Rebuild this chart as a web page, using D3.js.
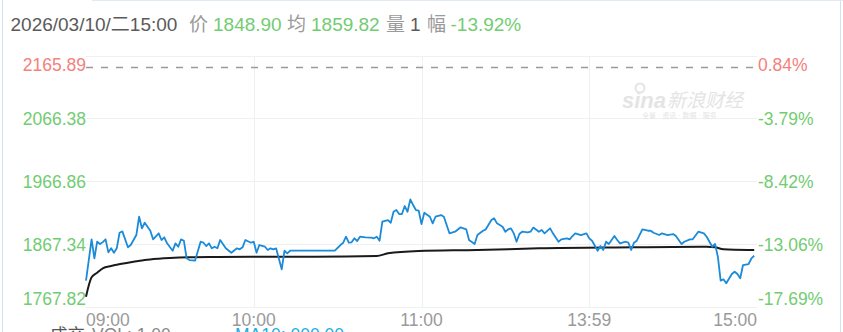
<!DOCTYPE html>
<html>
<head>
<meta charset="utf-8">
<script src="https://cdn.jsdelivr.net/npm/d3@7"></script>
<style>
  html, body { margin: 0; padding: 0; background: #fff; }
  svg { display: block; font-family: "Liberation Sans", Arial, "Noto Sans CJK SC", sans-serif; }
</style>
</head>
<body>
<svg id="chart" width="843" height="332"></svg>
<script>
// minute index (0 = 09:00, 240 = 15:00) and last price
var priceMinutes = [
  0, 2, 3, 4, 5, 6, 7, 8, 9, 10,
  11, 12, 13, 15, 16, 18, 19, 20, 21, 23,
  24, 26, 27, 28, 29, 31, 32, 33, 34, 35,
  36, 37, 39, 41, 42, 43, 44, 45, 46, 47,
  48, 50, 52, 54, 55, 56, 57, 59, 60, 61,
  62, 64, 65, 66, 67, 68, 70, 71, 72, 73,
  89, 91, 92, 93, 94, 95, 96, 97, 98, 100,
  102, 103, 104, 105, 106, 108, 109, 110, 111, 112,
  113, 114, 115, 116, 117, 118, 119, 120, 121, 123,
  124, 125, 127, 128, 130, 132, 134, 136, 137, 139,
  140, 142, 143, 145, 146, 147, 149, 150, 151, 152,
  153, 154, 155, 156, 158, 159, 160, 162, 163, 164,
  166, 167, 169, 170, 172, 173, 174, 175, 177, 179,
  180, 181, 183, 184, 185, 186, 187, 189, 190, 191,
  193, 194, 195, 196, 197, 199, 201, 202, 203, 205,
  206, 208, 210, 211, 213, 214, 216, 217, 219, 221,
  222, 223, 224, 225, 226, 227, 228, 229, 231, 232,
  233, 234, 235, 237, 238, 239
];
var priceValues = [
  1809.43, 1874.94, 1844.87, 1871.14, 1867.50, 1870.50, 1874.94, 1854.37, 1860.70, 1853.73,
  1860.70, 1885.38, 1887.59, 1862.28, 1865.92, 1881.74, 1910.69, 1892.34, 1901.20, 1888.54,
  1874.94, 1884.43, 1873.83, 1878.10, 1868.61, 1856.90, 1868.61, 1863.23, 1874.94, 1872.72,
  1844.87, 1842.18, 1841.08, 1871.14, 1869.56, 1864.33, 1868.61, 1860.70, 1863.23, 1860.70,
  1873.83, 1860.70, 1853.73, 1860.70, 1859.11, 1862.28, 1873.83, 1869.56, 1871.14, 1853.73,
  1865.92, 1863.23, 1858.01, 1860.70, 1859.11, 1860.70, 1827.47, 1856.90, 1852.78, 1856.90,
  1856.90, 1865.92, 1869.56, 1879.05, 1869.56, 1870.19, 1876.52, 1872.25, 1879.05, 1878.10,
  1877.47, 1876.52, 1879.05, 1872.72, 1902.78, 1905.47, 1901.20, 1918.60, 1921.29, 1914.96,
  1914.96, 1927.62, 1918.60, 1938.22, 1929.20, 1921.29, 1920.19, 1899.14, 1917.02, 1910.69,
  1900.25, 1910.69, 1913.38, 1910.69, 1884.43, 1886.96, 1893.92, 1890.76, 1873.83, 1867.50,
  1881.74, 1888.54, 1890.76, 1905.47, 1908.16, 1900.25, 1894.87, 1886.96, 1890.76, 1892.34,
  1884.43, 1871.14, 1883.32, 1886.96, 1886.01, 1886.96, 1893.50, 1886.96, 1889.65, 1884.43,
  1892.34, 1884.43, 1871.14, 1874.94, 1876.52, 1874.94, 1880.16, 1884.43, 1881.74, 1884.43,
  1876.52, 1872.72, 1856.90, 1864.33, 1858.01, 1871.14, 1867.50, 1880.16, 1873.83, 1868.61,
  1871.14, 1869.56, 1858.01, 1869.56, 1872.72, 1890.76, 1888.54, 1888.54, 1885.38, 1881.74,
  1884.43, 1881.74, 1883.32, 1880.16, 1867.50, 1871.14, 1874.94, 1874.94, 1886.96, 1884.43,
  1879.05, 1871.14, 1863.23, 1867.50, 1847.40, 1809.43, 1811.65, 1805.32, 1820.03, 1823.67,
  1820.03, 1813.23, 1834.27, 1835.85, 1844.87, 1848.90
];

// average price line
var avgMinutes = [0, 2, 4, 6, 9, 11, 15, 18, 21, 26, 30, 37, 47, 59, 82, 104, 108, 119, 140, 162, 196, 222, 225, 228, 232, 239];
var avgValues = [1784.12, 1814.81, 1822.09, 1829.05, 1832.69, 1834.75, 1837.91, 1840.13, 1842.18, 1844.24, 1845.35,
  1846.45, 1846.93, 1847.40, 1847.40, 1848.51, 1852.78, 1856.42, 1858.01, 1860.70, 1862.28, 1863.23,
  1862.28, 1859.11, 1858.30, 1858.00];

var prevClose = 2147.87;
var yTickValues = [2165.89, 2066.38, 1966.86, 1867.34, 1767.82];
var yTickPct = ["0.84%", "-3.79%", "-8.42%", "-13.06%", "-17.69%"];
var xTickMinutes = [0, 60, 120, 180, 240];
var xTickLabels = ["09:00", "10:00", "11:00", "13:59", "15:00"];

var headerDate = "2026/03/10/二15:00";
var headerPrice = "1848.90";
var headerAvg = "1859.82";
var headerVol = "1";
var headerChg = "-13.92%";

var red = "#f4817b", green = "#72cc72", gridColor = "#f0f0f0";

var svg = d3.select("#chart");
// plot box (note: "top" is taken by window.top)
var plotLeft = 86, plotRight = 757, plotTop = 55.5, plotBottom = 307;

var x = d3.scaleLinear().domain([0, 240]).range([plotLeft, plotRight]);
var y = d3.scaleLinear().domain([1767.82, 2165.89]).range([plotBottom, plotTop]);

// frame borders
svg.append("line").attr("x1", 2.5).attr("x2", 2.5).attr("y1", 0).attr("y2", 332)
   .attr("stroke", "#d3e2f2").attr("stroke-width", 1);
svg.append("line").attr("x1", 840.5).attr("x2", 840.5).attr("y1", 0).attr("y2", 332)
   .attr("stroke", "#d3e2f2").attr("stroke-width", 1);
svg.append("line").attr("x1", 92).attr("x2", 843).attr("y1", 0.5).attr("y2", 0.5)
   .attr("stroke", "#e1e9f3").attr("stroke-width", 1);

// header line
var header = svg.append("text").attr("y", 31).style("font-size", "19px");
[
  {t: headerDate, x: 10.5, c: "#5a5a5a"},
  {t: "价", x: 189, c: "#9a9a9a"},
  {t: headerPrice, x: 213, c: green},
  {t: "均", x: 287, c: "#9a9a9a"},
  {t: headerAvg, x: 311, c: green},
  {t: "量", x: 386, c: "#9a9a9a"},
  {t: headerVol, x: 410, c: "#5a5a5a"},
  {t: "幅", x: 427, c: "#9a9a9a"},
  {t: headerChg, x: 450.5, c: green}
].forEach(function(d) {
  header.append("tspan").attr("x", d.x).attr("fill", d.c).text(d.t);
});

// horizontal grid
svg.append("g").selectAll("line")
   .data(yTickValues)
   .join("line")
   .attr("x1", plotLeft).attr("x2", plotRight)
   .attr("y1", function(d) { return Math.round(y(d)) + 0.5; })
   .attr("y2", function(d) { return Math.round(y(d)) + 0.5; })
   .attr("stroke", gridColor);

// vertical grid
svg.append("g").selectAll("line")
   .data(xTickMinutes.slice(1, 4))
   .join("line")
   .attr("x1", function(d) { return Math.round(x(d)) + 0.5; })
   .attr("x2", function(d) { return Math.round(x(d)) + 0.5; })
   .attr("y1", plotTop).attr("y2", plotBottom)
   .attr("stroke", gridColor);

// watermark
var wm = svg.append("g").attr("fill", "#e4e4e4");
wm.append("text").attr("x", 622).attr("y", 108)
  .style("font-size", "22px").style("font-weight", "bold").style("font-style", "italic").text("sina");
wm.append("circle").attr("cx", 640).attr("cy", 88).attr("r", 4.5)
  .attr("fill", "none").attr("stroke", "#e4e4e4").attr("stroke-width", 2);
wm.append("text").attr("x", 667).attr("y", 107)
  .style("font-size", "19px").style("font-style", "italic").text("新浪财经");
wm.append("text").attr("x", 642).attr("y", 118)
  .style("font-size", "7px").text("全景 · 资讯 · 数据 · 服务");

// previous close dashed line
svg.append("line")
   .attr("x1", plotLeft).attr("x2", plotRight)
   .attr("y1", Math.round(y(prevClose)) + 0.5).attr("y2", Math.round(y(prevClose)) + 0.5)
   .attr("stroke", "#9a9a9a").attr("stroke-width", 1.3)
   .attr("stroke-dasharray", "7,8");

// y labels, left price and right percent
var yOffset = function(i) { return i == 0 ? 15.5 : (i == yTickValues.length - 1 ? -2.5 : 6.5); };
var yColor = function(i) { return i == 0 ? red : green; };

svg.append("g").style("font-size", "17.5px")
   .selectAll("text")
   .data(yTickValues)
   .join("text")
   .attr("x", plotLeft)
   .attr("y", function(d, i) { return y(d) + yOffset(i); })
   .attr("text-anchor", "end")
   .attr("fill", function(d, i) { return yColor(i); })
   .text(function(d) { return d.toFixed(2); });

svg.append("g").style("font-size", "17.5px")
   .selectAll("text")
   .data(yTickPct)
   .join("text")
   .attr("x", plotRight + 1)
   .attr("y", function(d, i) { return y(yTickValues[i]) + yOffset(i); })
   .attr("fill", function(d, i) { return yColor(i); })
   .text(function(d) { return d; });

// x labels
svg.append("g").style("font-size", "17.5px")
   .selectAll("text")
   .data(xTickMinutes)
   .join("text")
   .attr("x", function(d) { return x(d); })
   .attr("y", 325.5)
   .attr("fill", "#9a9a9a")
   .attr("text-anchor", function(d, i) { return i == 0 ? "start" : (i == xTickMinutes.length - 1 ? "end" : "middle"); })
   .text(function(d, i) { return xTickLabels[i]; });

// average line
var avgData = avgMinutes.map(function(m, i) { return {m: m, v: avgValues[i]}; });
var avgLine = d3.line()
    .x(function(d) { return x(d.m); })
    .y(function(d) { return y(d.v); })
    .curve(d3.curveMonotoneX);
svg.append("path")
   .datum(avgData)
   .attr("d", avgLine)
   .attr("fill", "none")
   .attr("stroke", "#1a1a1a")
   .attr("stroke-width", 2);

// price line
var priceData = priceMinutes.map(function(m, i) { return {m: m, v: priceValues[i]}; });
var priceLine = d3.line()
    .x(function(d) { return x(d.m); })
    .y(function(d) { return y(d.v); });
svg.append("path")
   .datum(priceData)
   .attr("d", priceLine)
   .attr("fill", "none")
   .attr("stroke", "#1b8ad8")
   .attr("stroke-width", 1.8)
   .attr("stroke-linejoin", "round");

// volume legend, cut off by the bottom edge
var vol = svg.append("text").attr("y", 341).style("font-size", "17.5px");
vol.append("tspan").attr("x", 50).attr("fill", "#555").text("成交");
vol.append("tspan").attr("x", 92).attr("fill", "#888").text("VOL: 1.00");
vol.append("tspan").attr("x", 235).attr("fill", "#1aaee6").text("MA10: 000.00");
</script>
</body>
</html>
